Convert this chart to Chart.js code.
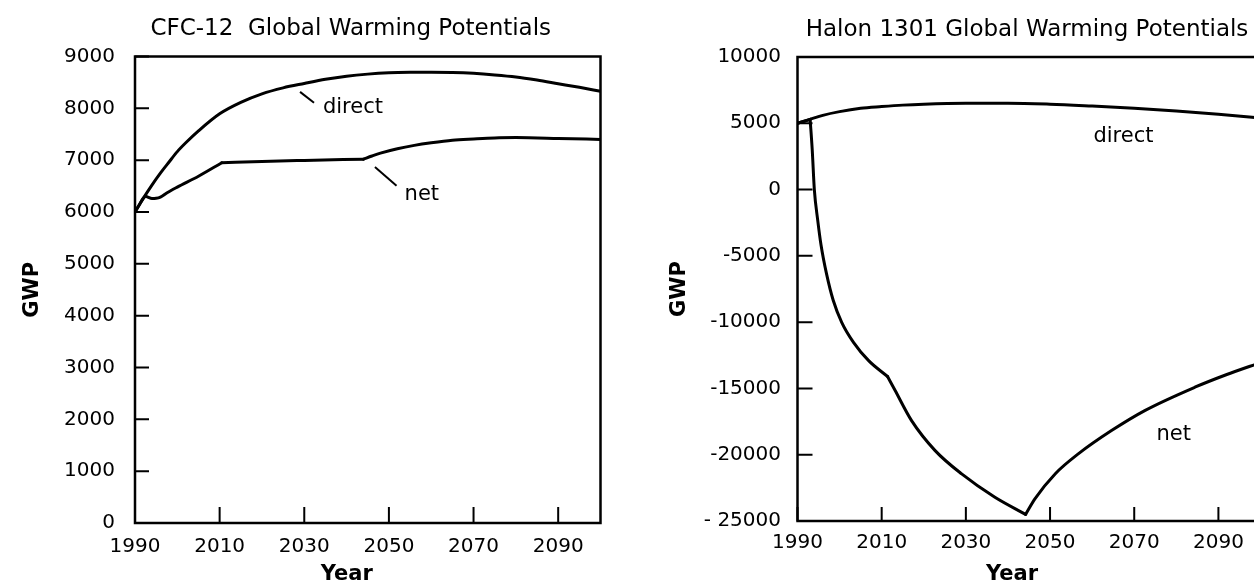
<!DOCTYPE html>
<html>
<head>
<meta charset="utf-8">
<script src="https://cdn.jsdelivr.net/npm/chart.js@4/dist/chart.umd.min.js"></script>
<style>
  html, body { margin: 0; padding: 0; background: #fff; overflow: hidden; }
  #wrap { position: relative; width: 1254px; height: 581px; overflow: hidden; background: #fff; }
  #cfc { position: absolute; left: 0; top: 0; }
  #halon { position: absolute; left: 628px; top: 0; }
</style>
</head>
<body>
<div id="wrap">
  <canvas id="cfc" width="628" height="581"></canvas>
  <canvas id="halon" width="662" height="581"></canvas>
</div>
<script>
// ---- shared axis ticks ----
const yearTicks = [1990, 2010, 2030, 2050, 2070, 2090];

// ---- CFC-12 ----
const cfcYTicks = [0, 1000, 2000, 3000, 4000, 5000, 6000, 7000, 8000, 9000];
const cfcYLabels = ['0', '1000', '2000', '3000', '4000', '5000', '6000', '7000', '8000', '9000'];

const cfcDirectYears = [1990, 1992, 1994, 1996, 1998, 2000, 2002, 2005, 2010, 2015, 2020, 2025, 2030, 2035, 2040, 2045, 2050, 2055, 2060, 2065, 2070, 2075, 2080, 2085, 2090, 2095, 2100];
const cfcDirectGWP   = [6000, 6270, 6520, 6750, 6960, 7165, 7335, 7565, 7895, 8115, 8280, 8395, 8480, 8560, 8620, 8660, 8685, 8695, 8697, 8692, 8675, 8645, 8605, 8545, 8475, 8405, 8330];

const cfcNetYears = [1990, 1991, 1992, 1992.5, 1993.2, 1994, 1995, 1996, 1997.5, 2000, 2005, 2010.5, 2020, 2030, 2044, 2046, 2048, 2052, 2056, 2060, 2065, 2070, 2075, 2080, 2090, 2100];
const cfcNetGWP   = [6000, 6135, 6270, 6310, 6280, 6260, 6264, 6287, 6367, 6480, 6690, 6950, 6975, 6995, 7020, 7080, 7135, 7220, 7285, 7335, 7385, 7410, 7430, 7435, 7420, 7400];
// years where the net curve has a corner
const cfcNetCorners = [1992.5, 2010.5, 2044];

// ---- Halon 1301 ----
const halonYTicks = [-25000, -20000, -15000, -10000, -5000, 0, 5000, 10000];
const halonYLabels = ['- 25000', '-20000', '-15000', '-10000', '-5000', '0', '5000', '10000'];

const halonDirectYears = [1990, 1993, 1996, 2000, 2005, 2010, 2015, 2020, 2030, 2040, 2050, 2060, 2070, 2080, 2090, 2100];
const halonDirectGWP   = [5000, 5300, 5600, 5880, 6130, 6260, 6370, 6440, 6510, 6515, 6440, 6300, 6140, 5930, 5680, 5400];

const halonNetYears = [1990, 1993, 1993.5, 1994, 1994.8, 1995.6, 1996.9, 1998.5, 2000.5, 2003.3, 2006.9, 2011.4, 2013.2, 2017.1, 2022.7, 2029, 2036.9, 2044.2, 2046.4, 2051.2, 2056.7, 2064.6, 2072.5, 2084.4, 2092, 2100];
const halonNetGWP   = [5000, 5300, 3000, 0, -2300, -4200, -6360, -8370, -10010, -11520, -12900, -14100, -15160, -17430, -19690, -21450, -23210, -24500, -23330, -21450, -19940, -18180, -16670, -14910, -13950, -13050];
const halonNetCorners = [1993, 2011.4, 2044.2];

const FONT = "'DejaVu Sans', 'Noto Sans', sans-serif";

function points(xs, ys) { return xs.map((x, i) => ({ x: x, y: ys[i] })); }

// Splits a curve at its corner years so each smooth piece is interpolated on its own
function pieces(xs, ys, corners) {
  const pts = points(xs, ys);
  const out = [];
  let cur = [];
  pts.forEach(p => {
    cur.push(p);
    if (corners.indexOf(p.x) !== -1) { out.push(cur); cur = [p]; }
  });
  if (cur.length > 1) out.push(cur);
  return out;
}

// Box around the plot, inward tick marks, titles and curve labels
const framePlugin = {
  id: 'frame',
  afterDraw(chart, args, o) {
    const ctx = chart.ctx, a = chart.chartArea;
    const xs = chart.scales.x, ys = chart.scales.y;
    ctx.save();
    ctx.strokeStyle = '#000';
    ctx.lineCap = 'butt';
    // inward ticks
    ctx.lineWidth = 2;
    ctx.beginPath();
    ys.ticks.forEach(t => {
      const py = ys.getPixelForValue(t.value);
      ctx.moveTo(a.left, py); ctx.lineTo(a.left + o.yTickLen, py);
    });
    xs.ticks.forEach(t => {
      const px = xs.getPixelForValue(t.value);
      ctx.moveTo(px, a.bottom); ctx.lineTo(px, a.bottom - o.xTickLen);
    });
    ctx.stroke();
    // frame
    ctx.lineWidth = 2.5;
    ctx.strokeRect(a.left, a.top, a.right - a.left, a.bottom - a.top);

    // leader lines (data coordinates)
    ctx.lineWidth = 2;
    (o.leaders || []).forEach(l => {
      ctx.beginPath();
      ctx.moveTo(xs.getPixelForValue(l[0][0]), ys.getPixelForValue(l[0][1]));
      ctx.lineTo(xs.getPixelForValue(l[1][0]), ys.getPixelForValue(l[1][1]));
      ctx.stroke();
    });

    ctx.fillStyle = '#000';
    ctx.textBaseline = 'alphabetic';
    // curve labels
    ctx.font = '21px ' + FONT;
    ctx.textAlign = 'left';
    (o.notes || []).forEach(n => {
      ctx.fillText(n.text, xs.getPixelForValue(n.x), ys.getPixelForValue(n.y));
    });
    // chart title
    const cx = (a.left + a.right) / 2;
    ctx.textAlign = 'center';
    ctx.font = '23px ' + FONT;
    ctx.fillText(o.title, cx + o.titleDx, o.titleBaseline);
    // x axis title
    ctx.font = 'bold 21px ' + FONT;
    ctx.fillText('Year', cx + o.yearDx, o.yearBaseline);
    ctx.restore();
  }
};

function makeChart(id, spec) {
  const datasets = [];
  spec.series.forEach(s => {
    s.parts.forEach(part => datasets.push({
      label: s.label,
      data: part,
      borderColor: '#000',
      borderWidth: 3,
      pointRadius: 0,
      cubicInterpolationMode: 'monotone',
      fill: false,
      borderCapStyle: 'round',
      borderJoinStyle: 'round'
    }));
  });
  return new Chart(document.getElementById(id), {
    type: 'line',
    data: { datasets: datasets },
    options: {
      responsive: false,
      animation: false,
      devicePixelRatio: 1,
      layout: { padding: spec.padding },
      plugins: {
        legend: { display: false },
        tooltip: { enabled: false },
        title: { display: false },
        frame: spec.frame
      },
      scales: {
        x: {
          type: 'linear',
          min: 1990, max: 2100,
          afterBuildTicks: s => { s.ticks = yearTicks.map(v => ({ value: v })); },
          afterFit: s => { s.height = spec.xHeight; },
          grid: { display: false, drawTicks: false },
          border: { display: false },
          ticks: {
            color: '#000', font: { family: FONT, size: 20 }, padding: spec.xPad,
            maxRotation: 0, autoSkip: false, callback: v => String(v)
          }
        },
        y: {
          type: 'linear',
          min: spec.yTicks[0], max: spec.yTicks[spec.yTicks.length - 1],
          afterBuildTicks: s => { s.ticks = spec.yTicks.map(v => ({ value: v })); },
          afterFit: s => { s.width = spec.yWidth; },
          grid: { display: false, drawTicks: false },
          border: { display: false },
          ticks: {
            color: '#000', font: { family: FONT, size: 20 }, padding: spec.yPad,
            autoSkip: false,
            callback: v => spec.yLabels[spec.yTicks.indexOf(v)]
          },
          title: {
            display: true, text: 'GWP', color: '#000',
            font: { family: FONT, size: 21, weight: 'bold' },
            padding: { top: spec.gwpPad, bottom: 0 }
          }
        }
      }
    },
    plugins: [framePlugin]
  });
}

makeChart('cfc', {
  series: [
    { label: 'direct', parts: pieces(cfcDirectYears, cfcDirectGWP, []) },
    { label: 'net', parts: pieces(cfcNetYears, cfcNetGWP, cfcNetCorners) }
  ],
  yTicks: cfcYTicks, yLabels: cfcYLabels,
  padding: { left: 0, top: 56.5, right: 27.5, bottom: 0 },
  yWidth: 135, xHeight: 58, xPad: 12, yPad: 20, gwpPad: 20,
  frame: {
    title: 'CFC-12  Global Warming Potentials', titleDx: -17, titleBaseline: 35,
    yearDx: -21, yearBaseline: 580, yTickLen: 14, xTickLen: 16,
    notes: [ { text: 'direct', x: 2034.4, y: 7912 }, { text: 'net', x: 2053.7, y: 6238 } ],
    leaders: [ [[2029, 8318], [2032.3, 8106]], [[2046.7, 6869], [2051.8, 6508]] ]
  }
});

makeChart('halon', {
  series: [
    { label: 'direct', parts: pieces(halonDirectYears, halonDirectGWP, []) },
    { label: 'net', parts: pieces(halonNetYears, halonNetGWP, halonNetCorners) }
  ],
  yTicks: halonYTicks, yLabels: halonYLabels,
  padding: { left: 0, top: 57, right: 29.5, bottom: 0 },
  yWidth: 169.5, xHeight: 60, xPad: 10, yPad: 16.5, gwpPad: 39.4,
  frame: {
    title: 'Halon 1301 Global Warming Potentials', titleDx: -2, titleBaseline: 36,
    yearDx: -17, yearBaseline: 580, yTickLen: 15, xTickLen: 14,
    notes: [ { text: 'direct', x: 2060.3, y: 3568 }, { text: 'net', x: 2075.3, y: -18880 } ],
    leaders: []
  }
});
</script>
</body>
</html>
